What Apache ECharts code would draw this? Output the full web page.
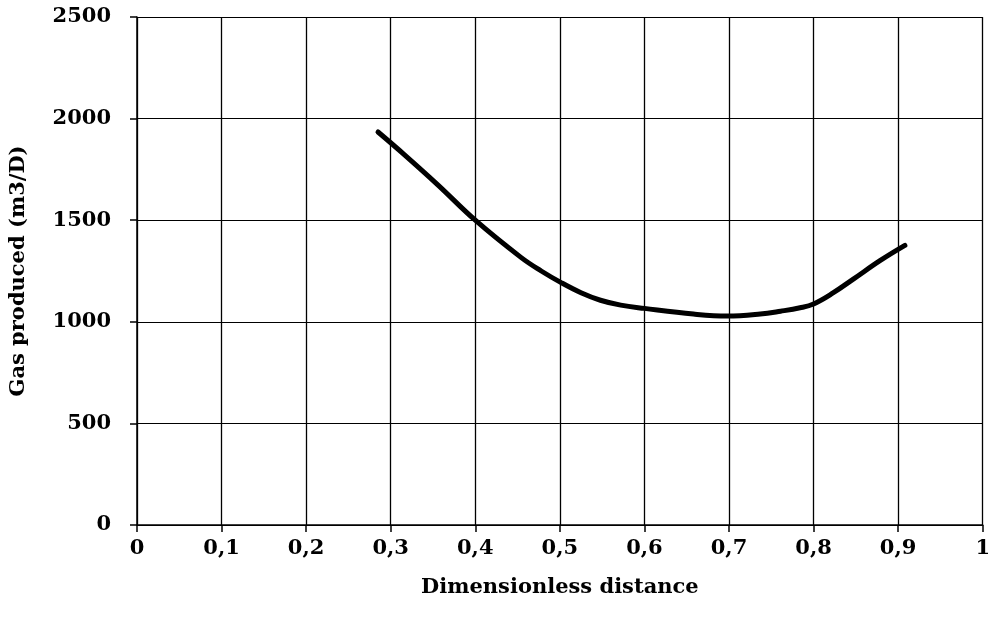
<!DOCTYPE html>
<html>
<head>
<meta charset="utf-8">
<script src="https://cdn.jsdelivr.net/npm/echarts@6/dist/echarts.min.js"></script>
<style>
  html, body { margin: 0; padding: 0; background: #fff; }
  #myChart { width: 993px; height: 619px; }
</style>
</head>
<body>
<div id="myChart"></div>
<script>
// data
var distance = [0.285, 0.316, 0.356, 0.4, 0.454, 0.478, 0.501, 0.525, 0.548, 0.572, 0.6, 0.658, 0.698, 0.737, 0.761, 0.784, 0.8, 0.823, 0.847, 0.879, 0.908];
var gasProduced = [1934, 1823, 1673, 1500, 1317, 1250, 1194, 1143, 1106, 1082, 1066, 1038, 1028, 1038, 1052, 1069, 1088, 1142, 1210, 1302, 1376];
var xTicks = [0, 0.1, 0.2, 0.3, 0.4, 0.5, 0.6, 0.7, 0.8, 0.9, 1];
var yTicks = [0, 500, 1000, 1500, 2000, 2500];

var font = 'DejaVu Serif';

var points = [];
for (var i = 0; i < distance.length; i++) {
  points.push([distance[i], gasProduced[i]]);
}

var myChart = echarts.init(document.getElementById('myChart'));
myChart.setOption({
  backgroundColor: '#fff',
  animation: false,
  grid: { left: 135, right: 10, top: 17, bottom: 94 },
  xAxis: {
    type: 'value',
    min: xTicks[0],
    max: xTicks[xTicks.length - 1],
    interval: 0.1,
    name: 'Dimensionless distance',
    nameLocation: 'middle',
    nameGap: 52,
    nameTextStyle: { fontFamily: font, fontWeight: 'bold', fontSize: 21, color: '#000' },
    axisLine: { lineStyle: { color: '#000', width: 1.5 } },
    axisTick: { show: true, length: 7, lineStyle: { color: '#000', width: 1.5 } },
    axisLabel: {
      margin: 13,
      fontFamily: font, fontWeight: 'bold', fontSize: 21, color: '#000',
      formatter: function (v) { return String(Math.round(v * 10) / 10).replace('.', ','); }
    },
    splitLine: { show: true, lineStyle: { color: '#000', width: 1.3 } }
  },
  yAxis: {
    type: 'value',
    min: yTicks[0],
    max: yTicks[yTicks.length - 1],
    interval: 500,
    name: 'Gas produced (m3/D)',
    nameLocation: 'middle',
    nameGap: 108,
    nameTextStyle: { fontFamily: font, fontWeight: 'bold', fontSize: 21, color: '#000' },
    axisLine: { show: true, lineStyle: { color: '#000', width: 1.5 } },
    axisTick: { show: true, length: 7, lineStyle: { color: '#000', width: 1.5 } },
    axisLabel: {
      margin: 26, fontFamily: font, fontWeight: 'bold', fontSize: 21, color: '#000',
      formatter: function (v) { return String(v); }
    },
    splitLine: { show: true, lineStyle: { color: '#000', width: 1 } }
  },
  series: [{
    type: 'line',
    data: points,
    smooth: 0.4,
    showSymbol: false,
    lineStyle: { color: '#000', width: 5, cap: 'round' }
  }]
});
</script>
</body>
</html>
